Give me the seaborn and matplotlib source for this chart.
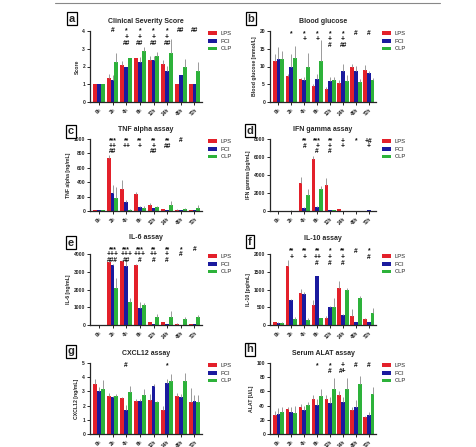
import numpy as np
import pandas as pd
import matplotlib
matplotlib.use("Agg")
import matplotlib.pyplot as plt
import seaborn as sns
from matplotlib.lines import Line2D

sns.set_style("ticks")
plt.rcParams['font.family'] = ['Liberation Sans', 'DejaVu Sans']

times = ["0h", "2h", "4h", "6h", "12h", "24h", "48h", "72h"]
groups = ["LPS", "PCI", "CLP"]
colors = ["#E3202A", "#1A1A9E", "#2DB23A"]

# Panel a: Clinical Severity Score
a_lps = [1.0, 1.35, 2.1, 2.5, 2.37, 2.12, 1.0, 1.0]
a_pci = [1.0, 1.25, 2.0, 2.25, 2.37, 1.75, 1.5, 1.0]
a_clp = [1.0, 2.27, 2.5, 2.87, 2.6, 2.77, 2.0, 1.77]
a_lps_e = [0, 0.25, 0.2, 0, 0.2, 0.25, 0, 0]
a_pci_e = [0, 0.25, 0, 0.3, 0.2, 0.3, 0, 0]
a_clp_e = [0, 0.5, 0, 0.25, 0.2, 0.8, 0.4, 0.5]
a_ann = [[], ["#"], ["*", "+", "##"], ["*", "+", "##"], ["*", "+", "##"], ["*", "+", "##"], ["##"], ["##"]]

# Panel b: Blood glucose
b_lps = [11.5, 7.3, 6.4, 4.4, 3.7, 5.4, 9.8, 9.1]
b_pci = [12.1, 9.9, 6.3, 6.6, 5.8, 8.7, 8.6, 8.2]
b_clp = [12.0, 12.4, 9.9, 11.5, 6.2, 5.8, 5.6, 6.1]
b_lps_e = [2.0, 0.5, 0.5, 0.8, 0.5, 0.8, 1.0, 1.2]
b_pci_e = [3.5, 3.5, 0.8, 1.2, 1.3, 2.0, 1.5, 0.5]
b_clp_e = [2.5, 3.5, 3.8, 6.0, 0.8, 1.8, 0.8, 0.8]
b_ann = [[], ["*"], ["*", "+"], ["*", "+"], ["*", "+", "#"], ["*", "+", "##"], ["#"], ["#"]]

# Panel c: TNF alpha
c_lps = [10, 731, 305, 231, 83, 28, 18, 10]
c_pci = [10, 245, 130, 55, 37, 10, 14, 14]
c_clp = [10, 176, 18, 46, 55, 83, 28, 46]
c_lps_e = [3, 50, 130, 30, 30, 5, 5, 5]
c_pci_e = [3, 120, 20, 20, 10, 5, 5, 5]
c_clp_e = [3, 160, 5, 20, 20, 50, 10, 40]
c_ann = [[], ["***", "++", "##"], ["**", "++"], ["**", "+"], ["**", "+", "##"], ["**", "##"], ["#"], []]

# Panel d: IFN gamma
d_lps = [0, 20, 3140, 5760, 2840, 190, 20, 10]
d_pci = [0, 50, 300, 450, 110, 40, 40, 60]
d_clp = [0, 30, 1830, 2500, 110, 40, 10, 10]
d_lps_e = [0, 10, 600, 400, 800, 50, 10, 5]
d_pci_e = [0, 10, 150, 100, 50, 10, 10, 10]
d_clp_e = [0, 10, 600, 300, 50, 10, 5, 5]
d_ann = [[], [], ["**", "#"], ["***", "+", "#"], ["**", "+", "#"], ["+", "+"], ["*"], ["+#", "+"]]

# Panel e: IL-6
e_lps = [0, 3570, 3630, 3390, 150, 150, 75, 40]
e_pci = [0, 3390, 3350, 970, 60, 60, 20, 40]
e_clp = [0, 2080, 1300, 1150, 465, 450, 335, 430]
e_lps_e = [0, 50, 50, 20, 20, 20, 10, 5]
e_pci_e = [0, 40, 300, 300, 10, 10, 5, 5]
e_clp_e = [0, 550, 200, 100, 150, 350, 100, 150]
e_ann = [[], ["***", "+++", "###"], ["***", "+++", "##"], ["***", "+++", "#"], ["**", "++", "#"], ["**", "+", "#"], ["*", "#"], ["#"]]

# Panel f: IL-10
f_lps = [75, 1675, 910, 560, 185, 1030, 260, 175]
f_pci = [65, 700, 885, 1375, 495, 280, 75, 75]
f_clp = [65, 170, 140, 185, 520, 975, 770, 325]
f_lps_e = [10, 170, 100, 150, 80, 200, 200, 20]
f_pci_e = [10, 30, 40, 0, 30, 30, 20, 20]
f_clp_e = [10, 60, 50, 20, 250, 80, 50, 140]
f_ann = [[], ["**", "+"], ["**", "+"], ["**", "++", "#"], ["*", "+", "#"], ["**", "+", "#"], ["#"], ["*", "#"]]

# Panel g: CXCL12
g_lps = [3.54, 2.7, 2.51, 2.3, 2.42, 1.67, 2.68, 2.25]
g_pci = [3.0, 2.58, 1.71, 2.3, 3.4, 3.6, 2.6, 2.35]
g_clp = [3.17, 2.7, 2.93, 2.77, 2.25, 3.71, 3.71, 2.23]
g_lps_e = [0.3, 0.2, 0.1, 0.2, 0.4, 0.3, 0.2, 1.0]
g_pci_e = [0.3, 0.1, 0.3, 0.2, 0.1, 0.3, 0.2, 0.4]
g_clp_e = [0.6, 0.1, 0.45, 0.4, 0.1, 0.5, 0.6, 0.5]
g_ann = [[], [], ["#"], [], [], ["*"], [], []]

# Panel h: Serum ALAT
h_lps = [27, 35.3, 37.7, 48.8, 48.8, 55, 34, 23.3]
h_pci = [28.4, 31.6, 34, 41, 43.7, 45.6, 37.7, 27]
h_clp = [30.7, 29.3, 41, 54, 63.3, 64, 69.8, 56.7]
h_lps_e = [5, 3, 4, 6, 6, 5, 4, 2]
h_pci_e = [8, 6, 5, 8, 8, 6, 10, 4]
h_clp_e = [8, 10, 4, 10, 15, 15, 12, 10]
h_ann = [[], [], [], ["*"], ["*", "#"], ["+", "#+"], ["#"], ["#"]]

panels = [
    ("a", "Clinical Severity Score", "Score", (a_lps, a_pci, a_clp), (a_lps_e, a_pci_e, a_clp_e), a_ann, [0, 1, 2, 3, 4], 1.05, 0.9, 6),
    ("b", "Blood glucose", "Blood glucose [mmol/L]", (b_lps, b_pci, b_clp), (b_lps_e, b_pci_e, b_clp_e), b_ann, [0, 5, 10, 15, 20], 1.01, 0.8, 6),
    ("c", "TNF alpha assay", "TNF alpha [ng/mL]", (c_lps, c_pci, c_clp), (c_lps_e, c_pci_e, c_clp_e), c_ann, [0, 200, 400, 600, 800, 1000], 1.03, 0.75, 6),
    ("d", "IFN gamma assay", "IFN gamma [pg/mL]", (d_lps, d_pci, d_clp), (d_lps_e, d_pci_e, d_clp_e), d_ann, [0, 2000, 4000, 6000, 8000], 1.02, 0.68, 6),
    ("e", "IL-6 assay", "IL-6 [ng/mL]", (e_lps, e_pci, e_clp), (e_lps_e, e_pci_e, e_clp_e), e_ann, [0, 1000, 2000, 3000, 4000], 1.11, 0.66, 11),
    ("f", "IL-10 assay", "IL-10 [pg/mL]", (f_lps, f_pci, f_clp), (f_lps_e, f_pci_e, f_clp_e), f_ann, [0, 500, 1000, 1500, 2000], 1.09, 0.8, 10),
    ("g", "CXCL12 assay", "CXCL12 [ng/mL]", (g_lps, g_pci, g_clp), (g_lps_e, g_pci_e, g_clp_e), g_ann, [0, 1, 2, 3, 4, 5], 1.01, 0.8, 6),
    ("h", "Serum ALAT assay", "ALAT [U/L]", (h_lps, h_pci, h_clp), (h_lps_e, h_pci_e, h_clp_e), h_ann, [0, 20, 40, 60, 80, 100], 1.01, 0.8, 6),
]

W, H = 477, 447
fig = plt.figure(figsize=(W / 100, H / 100), dpi=100)

col_left = [90, 270]
col_width = [112, 106]
row_top = [31, 139, 254, 363]
row_bot = [102, 211, 325, 434]
letter_box = [(66, 12), (245, 12), (65, 125), (244, 124), (65, 236), (244, 235), (65, 345), (244, 343)]

for idx, (letter, title, ylabel, vals, errs, ann, yticks, ytop, lsp, tpad) in enumerate(panels):
    r, c = divmod(idx, 2)
    left = col_left[c] / W
    width = col_width[c] / W
    bottom = 1 - row_bot[r] / H
    height = (row_bot[r] - row_top[r]) / H
    ax = fig.add_axes([left, bottom, width, height])

    df = pd.DataFrame({
        "time": np.tile(times, 3),
        "group": np.repeat(groups, len(times)),
        "value": np.concatenate(vals),
    })
    sns.barplot(data=df, x="time", y="value", hue="group", order=times, hue_order=groups,
                palette=colors, errorbar=None, width=0.86, gap=0.0, legend=False, ax=ax,
                saturation=1, linewidth=0)
    for cont, e in zip(ax.containers, errs):
        xs = [b.get_x() + b.get_width() / 2 for b in cont.patches]
        ys = [b.get_height() for b in cont.patches]
        ax.errorbar(xs, ys, yerr=[np.zeros(len(e)), e], fmt="none", ecolor="#9a9a9a",
                    elinewidth=0.7, capsize=0, zorder=1)
    ax.set_ylim(yticks[0], yticks[-1])
    ax.set_yticks(yticks)
    ax.set_xlim(-0.65, 7.55)
    ax.set_xlabel("")
    ax.set_ylabel(ylabel, fontsize=3.7, fontweight="bold", labelpad=2)
    sns.despine(ax=ax)
    for sp in ["left", "bottom"]:
        ax.spines[sp].set_linewidth(0.9)
    ax.tick_params(axis="both", length=2, width=0.7, pad=1.5, labelsize=3.6)
    for lab in ax.get_yticklabels():
        lab.set_fontweight("bold")
    ax.set_xticks(range(len(times)))
    ax.set_xticklabels(times, rotation=45, ha="right", rotation_mode="anchor", fontsize=3.4, fontweight="bold")
    ax.set_title(title, fontsize=5, fontweight="bold", pad=tpad)

    ax.legend(ax.containers, groups, loc="upper left", bbox_to_anchor=(1.03, 1.03),
              frameon=False, fontsize=4.2, handlelength=1.6, handleheight=0.6,
              labelspacing=0.45, handletextpad=0.6, borderaxespad=0)

    for j, lines in enumerate(ann):
        if lines:
            ax.text(j, ytop, "\n".join(lines), transform=ax.get_xaxis_transform(), ha="center",
                    va="top", fontsize=4.8, fontweight="bold", color="#111111",
                    linespacing=lsp, clip_on=False, multialignment="center")

    bx, by = letter_box[idx]
    fig.text((bx + 6) / W, 1 - (by + 6.5) / H, letter, fontsize=8, fontweight="bold",
             ha="center", va="center",
             bbox=dict(boxstyle="square,pad=0.15", fc="white", ec="black", lw=0.9))

fig.add_artist(Line2D([55 / W, 440 / W], [1 - 3 / H, 1 - 3 / H], color="#888888", lw=0.8))

fig.savefig("out.png", dpi=100)
